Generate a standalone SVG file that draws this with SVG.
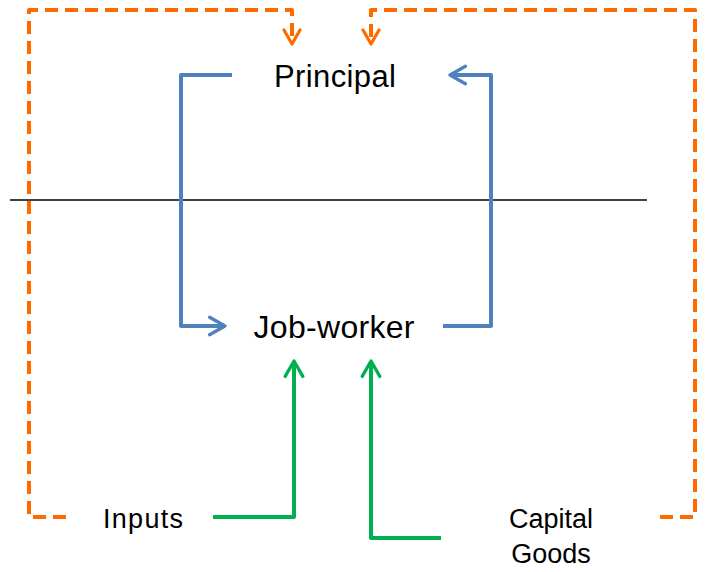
<svg xmlns="http://www.w3.org/2000/svg" width="705" height="572" viewBox="0 0 705 572">
<style>
.t{font-family:"Liberation Sans",Arial,sans-serif;fill:#000;text-anchor:middle}
.b{fill:none;stroke:#4f81bd;stroke-width:4;stroke-linejoin:round}
.g{fill:none;stroke:#00b050;stroke-width:4;stroke-linejoin:round}
.o{fill:none;stroke:#ff6a00;stroke-width:4;stroke-dasharray:13 7;stroke-linejoin:round}
</style>
<defs>
<marker id="ab" viewBox="0 0 10 10" refX="9" refY="5" markerWidth="5.5" markerHeight="5.5" orient="auto" markerUnits="strokeWidth"><path d="M2,1 L9,5 L2,9" fill="none" stroke="#4f81bd" stroke-width="1.5" stroke-linecap="round" stroke-linejoin="round"/></marker>
<marker id="ag" viewBox="0 0 10 10" refX="9" refY="5" markerWidth="5.5" markerHeight="5.5" orient="auto" markerUnits="strokeWidth"><path d="M2,1 L9,5 L2,9" fill="none" stroke="#00b050" stroke-width="1.5" stroke-linecap="round" stroke-linejoin="round"/></marker>
<marker id="ao" viewBox="0 0 10 10" refX="9" refY="5" markerWidth="5" markerHeight="5" orient="auto" markerUnits="strokeWidth"><path d="M2,1 L9,5 L2,9" fill="none" stroke="#ff6a00" stroke-width="1.6" stroke-linecap="round" stroke-linejoin="round"/></marker>
</defs>
<g id="connectors">
<line x1="10" y1="200" x2="647" y2="200" stroke="#000" stroke-width="1.5"/>
<path class="b" d="M232,75 H181 V326 H225" marker-end="url(#ab)"/>
<path class="b" d="M443,326 H491 V75 H450" marker-end="url(#ab)"/>
<path class="g" d="M213,517 H294 V361" marker-end="url(#ag)"/>
<path class="g" d="M441,538 H371 V361" marker-end="url(#ag)"/>
<path class="o" d="M66,517 H29 V10 H292 V44" marker-end="url(#ao)"/>
<path class="o" d="M660,517 H695 V10 H371 V44" marker-end="url(#ao)"/>
</g>
<g id="principal"><text class="t" x="335" y="87" font-size="31" textLength="122">Principal</text></g>
<g id="jobworker"><text class="t" x="334" y="338" font-size="32" textLength="161">Job-worker</text></g>
<g id="inputs"><text class="t" x="143" y="528" font-size="27" textLength="80">Inputs</text></g>
<g id="capital"><text class="t" x="551" y="528" font-size="27">Capital</text><text class="t" x="551" y="563" font-size="27">Goods</text></g>
</svg>
